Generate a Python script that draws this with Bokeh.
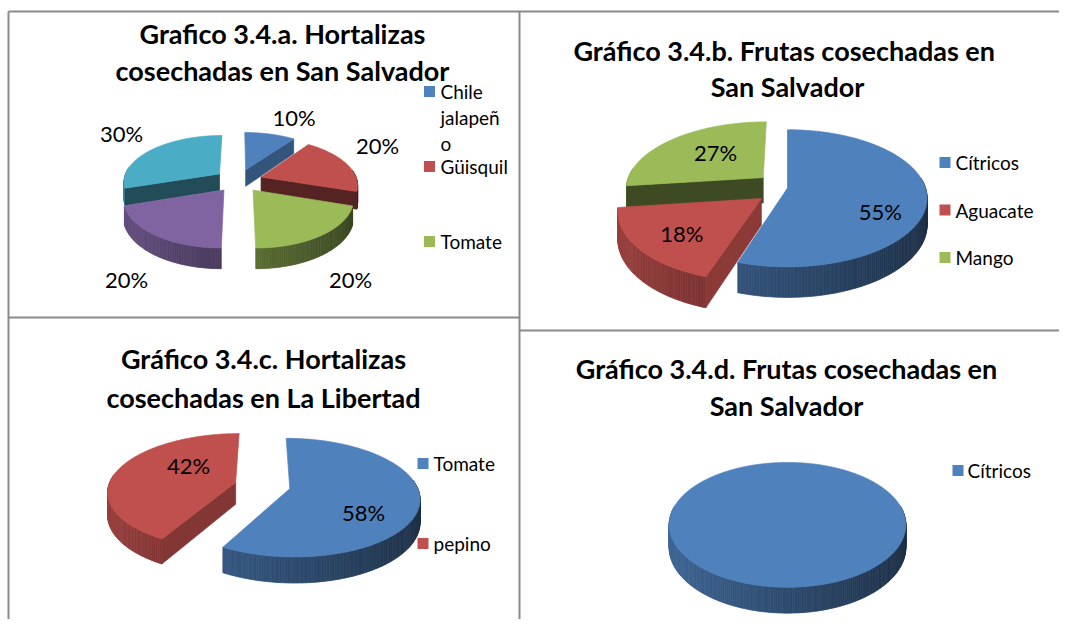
import numpy as np
from bokeh.plotting import figure
from bokeh.models import Range1d, ColumnDataSource
from bokeh.embed import file_html
from bokeh.resources import INLINE
from bokeh.core.properties import value

# ---------------- data ----------------
a_title = ["Grafico 3.4.a. Hortalizas", "cosechadas en San Salvador"]
a_values = [10, 20, 20, 20, 30]
a_colors = ["#4F81BD", "#C0504D", "#9BBB59", "#8064A2", "#4BACC6"]
a_legend = [["Chile", "jalapeñ", "o"], ["Güisquil"], ["Tomate"]]

b_title = ["Gráfico 3.4.b. Frutas cosechadas  en", "San Salvador"]
b_values = [55, 18, 27]
b_colors = ["#4F81BD", "#C0504D", "#9BBB59"]
b_legend = [["Cítricos"], ["Aguacate"], ["Mango"]]

c_title = ["Gráfico 3.4.c. Hortalizas", "cosechadas en La Libertad"]
c_values = [58, 42]
c_colors = ["#4F81BD", "#C0504D"]
c_legend = [["Tomate"], ["pepino"]]

d_title = ["Gráfico 3.4.d. Frutas cosechadas en", "San Salvador"]
d_values = [100]
d_colors = ["#4F81BD"]
d_legend = [["Cítricos"]]

# ---------------- layout ----------------
FONT = "Lato"
charts = [
    dict(values=a_values, colors=a_colors, legend=a_legend, title=a_title,
         geom=(238, 180, 96, 46, 17, 0.15), explode=[0.25] * 5,
         lab_r=1.35, nudge=[(17, -6), (3, -14), (0, 25), (0, 25), (-8, -9)],
         title_xy=(282, 33), title_dy=37,
         leg_sq_x=429, leg_tx=440, leg_y=91, leg_step=75, leg_line=26),
    dict(values=b_values, colors=b_colors, legend=b_legend, title=b_title,
         geom=(787, 187.5, 138, 67, 26, 0.15), explode=[0, 0.24, 0.24],
         lab_r=0.62, nudge=[(7, 17), (-6, 5), (10, 0)],
         title_xy=(787, 50), title_dy=36,
         leg_sq_x=944.5, leg_tx=955, leg_y=162, leg_step=47.5, leg_line=26),
    dict(values=c_values, colors=c_colors, legend=c_legend, title=c_title,
         geom=(262, 485, 127, 57, 22, 0.15), explode=[0.22, 0.22],
         lab_r=0.6, nudge=[(-3, 15), (24, -9)],
         title_xy=(263, 358), title_dy=39,
         leg_sq_x=422.5, leg_tx=433, leg_y=463, leg_step=80, leg_line=26),
    dict(values=d_values, colors=d_colors, legend=d_legend, title=d_title,
         geom=(787, 515, 117, 61, 22, 0.15), explode=[0],
         lab_r=None, nudge=[],
         title_xy=(786, 368), title_dy=37,
         leg_sq_x=957.5, leg_tx=967, leg_y=470, leg_step=40, leg_line=26),
]


def shade(hexcol, s):
    h = hexcol.lstrip("#")
    r, g, b = (int(h[i:i + 2], 16) for i in (0, 2, 4))
    return "#%02x%02x%02x" % tuple(max(0, min(255, int(round(c * s)))) for c in (r, g, b))


def proj(geom, u, v, h):
    cx, cy, rx, ry, d, k = geom
    f = 1.0 / (1.0 - k * v)
    return cx + rx * u * f, cy + (ry * v + h) * f


W, H = 1059, 619
p = figure(width=W, height=H, x_range=Range1d(0, W), y_range=Range1d(H, 0),
           output_backend="svg", toolbar_location=None, min_border=0,
           x_axis_location=None, y_axis_location=None)
p.xgrid.visible = False
p.ygrid.visible = False
p.outline_line_color = None
p.background_fill_color = "white"
p.border_fill_color = "white"

# frame lines of the document table
frame_col = "#8a8a8a"
p.segment(x0=[8, 8, 519, 8, 519], y0=[11, 11, 11, 317, 330],
          x1=[1075, 8, 519, 519, 1075], y1=[11, 640, 640, 317, 330],
          line_color=frame_col, line_width=2)

xs, ys, fills = [], [], []
lab_x, lab_y, lab_t = [], [], []
leg_rx, leg_ry, leg_col = [], [], []
leg_x, leg_y, leg_t = [], [], []
tit_x, tit_y, tit_t = [], [], []

for ch in charts:
    geom = ch["geom"]
    cx, cy, rx, ry, d, k = geom
    vals = ch["values"]
    total = float(sum(vals))
    start = -90.0
    slices = []
    for i, (val, col, e) in enumerate(zip(vals, ch["colors"], ch["explode"])):
        sweep = 360.0 * val / total
        t1, t2 = start, start + sweep
        mid = np.radians((t1 + t2) / 2)
        ou, ov = e * np.cos(mid), e * np.sin(mid)
        order = ov + (0.5 * np.sin(mid) if sweep < 360 else 0)
        slices.append((order, i, t1, t2, mid, ou, ov, col, sweep))
        start = t2
    for order, i, t1, t2, mid, ou, ov, col, sweep in sorted(slices):
        # outer side wall
        n = max(2, int(abs(t2 - t1) / 1.0))
        th = np.radians(np.linspace(t1, t2, n + 1))
        for a, b in zip(th[:-1], th[1:]):
            m = 0.5 * (a + b)
            if np.sin(m) < -0.15:
                continue
            pa = proj(geom, ou + np.cos(a), ov + np.sin(a), 0)
            pb = proj(geom, ou + np.cos(b), ov + np.sin(b), 0)
            qb = proj(geom, ou + np.cos(b), ov + np.sin(b), d)
            qa = proj(geom, ou + np.cos(a), ov + np.sin(a), d)
            xs.append([pa[0], pb[0], qb[0], qa[0]])
            ys.append([pa[1], pb[1], qb[1], qa[1]])
            fills.append(shade(col, 0.58 - 0.22 * np.cos(m)))
        # radial cut faces
        if sweep < 360:
            for t, sgn in ((np.radians(t1), 1), (np.radians(t2), -1)):
                nu, nv = sgn * np.sin(t), -sgn * np.cos(t)
                if nv <= 0.01:
                    continue
                v0 = proj(geom, ou, ov, 0)
                v1 = proj(geom, ou + np.cos(t), ov + np.sin(t), 0)
                v2 = proj(geom, ou + np.cos(t), ov + np.sin(t), d)
                v3 = proj(geom, ou, ov, d)
                xs.append([v0[0], v1[0], v2[0], v3[0]])
                ys.append([v0[1], v1[1], v2[1], v3[1]])
                fills.append(shade(col, 0.38 + 0.37 * abs(nu) ** 1.5))
        # top face
        th = np.radians(np.linspace(t1, t2, max(8, int(abs(t2 - t1) * 2)) + 1))
        pts = [proj(geom, ou + np.cos(t), ov + np.sin(t), 0) for t in th]
        if sweep < 360:
            pts = [proj(geom, ou, ov, 0)] + pts
        xs.append([q[0] for q in pts])
        ys.append([q[1] for q in pts])
        fills.append(col)
        # data label
        if ch["lab_r"] is not None:
            L = ch["lab_r"]
            lx, ly = proj(geom, ou + L * np.cos(mid), ov + L * np.sin(mid), 0)
            dx, dy = ch["nudge"][i]
            lab_x.append(lx + dx)
            lab_y.append(ly + dy)
            lab_t.append("%d%%" % round(100 * vals[i] / total))
    # legend
    for j, lines in enumerate(ch["legend"]):
        y0 = ch["leg_y"] + j * ch["leg_step"]
        leg_rx.append(ch["leg_sq_x"])
        leg_ry.append(y0)
        leg_col.append(ch["colors"][j])
        for m, line in enumerate(lines):
            leg_x.append(ch["leg_tx"])
            leg_y.append(y0 + m * ch["leg_line"])
            leg_t.append(line)
    # title
    tx, ty = ch["title_xy"]
    for m, line in enumerate(ch["title"]):
        tit_x.append(tx)
        tit_y.append(ty + m * ch["title_dy"])
        tit_t.append(line)

src = ColumnDataSource(dict(xs=xs, ys=ys, fill=fills))
p.patches("xs", "ys", source=src, fill_color="fill", line_color="fill", line_width=0.7)

p.text(x=lab_x, y=lab_y, text=lab_t, text_font=value(FONT), text_font_size="22px",
       text_align="center", text_baseline="middle", text_color="black")
p.rect(x=leg_rx, y=leg_ry, width=11, height=11, fill_color=leg_col, line_color=None)
p.text(x=leg_x, y=leg_y, text=leg_t, text_font=value(FONT), text_font_size="19px",
       text_align="left", text_baseline="middle", text_color="black")
p.text(x=tit_x, y=tit_y, text=tit_t, text_font=value(FONT), text_font_size="27px",
       text_font_style="bold", text_align="center", text_baseline="middle", text_color="black")

open("out.html", "w").write(file_html(p, INLINE))
